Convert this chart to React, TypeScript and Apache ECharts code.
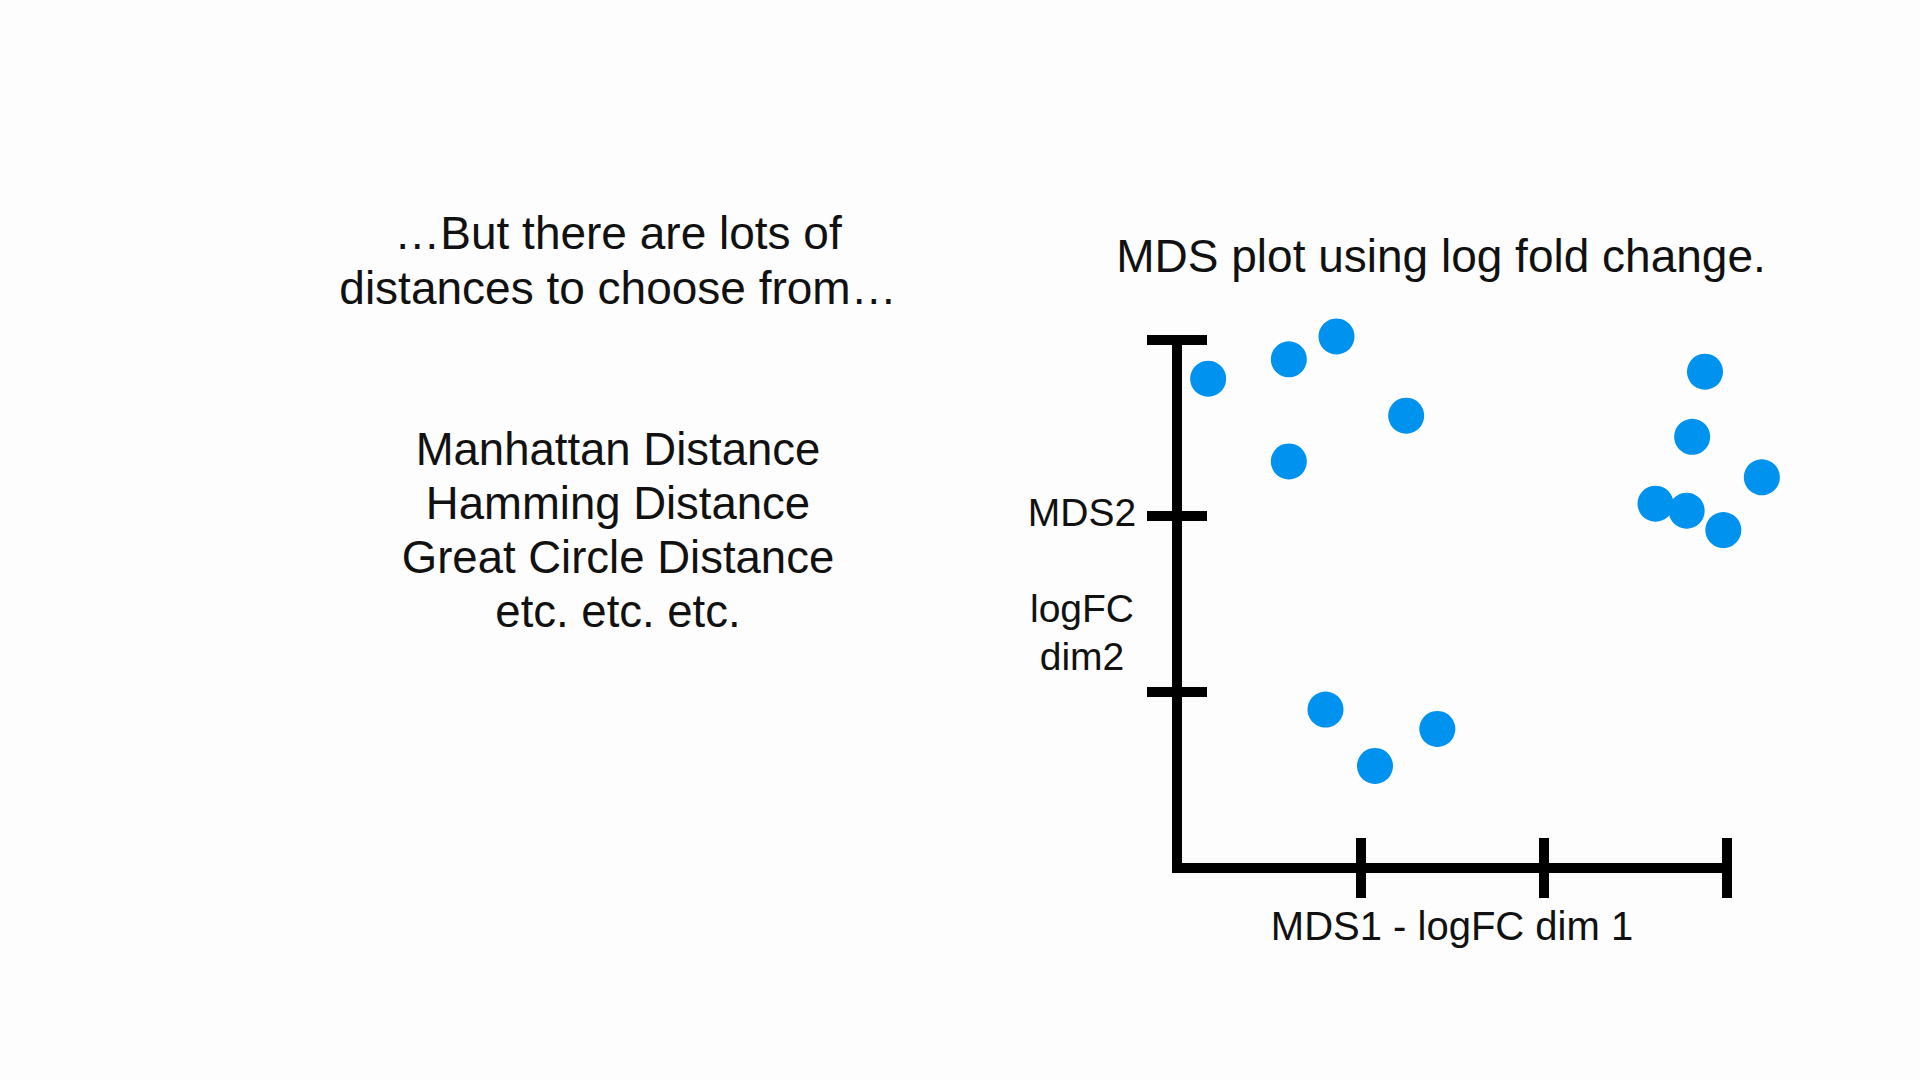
import React, { useEffect, useRef } from "react";
import * as echarts from "echarts";

const xValues = [0.17, 0.61, 0.87, 1.25, 0.61, 2.88, 2.81, 3.19, 2.61, 2.78, 2.98, 0.81, 1.08, 1.42];
const yValues = [2.78, 2.89, 3.02, 2.57, 2.31, 2.82, 2.45, 2.22, 2.07, 2.03, 1.92, 0.9, 0.58, 0.79];
const tickValues = [1, 2, 3];
const yLabelValues = [2.02, 1.34];
const yLabelTexts = ["MDS2", "logFC\ndim2"];
const titleText = "MDS plot using log fold change.";
const xAxisName = "MDS1 - logFC dim 1";
const introLines = ["\u2026But there are lots of", "distances to choose from\u2026"];
const distanceLines = ["Manhattan Distance", "Hamming Distance", "Great Circle Distance", "etc. etc. etc."];

const FONT = "'Liberation Sans', Arial, Helvetica, sans-serif";
const INK = "#111111";

export default function App() {
  const ref = useRef<HTMLDivElement>(null);
  useEffect(() => {
    document.body.style.margin = "0";
    if (!ref.current) return;
    const chart = echarts.init(ref.current, undefined, { renderer: "svg" });
    const data = xValues.map((x, i) => [x, yValues[i]]);
    const axisLineStyle = { color: "#000", width: 10, cap: "square" as const };
    const tickStyle = { color: "#000", width: 10 };
    const baseX = {
      type: "value" as const,
      min: 0,
      max: 3,
      interval: 1,
      position: "bottom" as const,
      splitLine: { show: false },
    };
    const baseY = {
      type: "value" as const,
      min: 0,
      max: 3,
      interval: 1,
      position: "left" as const,
      splitLine: { show: false },
    };
    chart.setOption({
      animation: false,
      backgroundColor: "#fdfdfd",
      grid: { left: 1177, right: 193, top: 340, bottom: 212, containLabel: false },
      xAxis: [
        {
          ...baseX,
          axisLine: { show: true, onZero: false, lineStyle: axisLineStyle },
          axisTick: { show: true, inside: true, length: 30, customValues: tickValues, lineStyle: tickStyle },
          axisLabel: { show: false },
          name: xAxisName,
          nameLocation: "middle",
          nameGap: 38,
          nameTextStyle: { fontFamily: FONT, fontSize: 40, color: INK, verticalAlign: "top" },
        },
        {
          ...baseX,
          axisLine: { show: false },
          axisTick: { show: true, inside: false, length: 30, customValues: tickValues, lineStyle: tickStyle },
          axisLabel: { show: false },
        },
      ],
      yAxis: [
        {
          ...baseY,
          axisLine: { show: true, onZero: false, lineStyle: axisLineStyle },
          axisTick: { show: true, inside: true, length: 30, customValues: tickValues, lineStyle: tickStyle },
          axisLabel: {
            show: true,
            customValues: yLabelValues,
            margin: 95,
            align: "center",
            fontFamily: FONT,
            fontSize: 39,
            lineHeight: 48,
            color: INK,
            formatter: (v: number) => {
              const i = yLabelValues.indexOf(v);
              return i >= 0 ? yLabelTexts[i] : "";
            },
          },
        },
        {
          ...baseY,
          axisLine: { show: false },
          axisTick: { show: true, inside: false, length: 30, customValues: tickValues, lineStyle: tickStyle },
          axisLabel: { show: false },
        },
      ],
      series: [
        {
          type: "scatter",
          xAxisIndex: 0,
          yAxisIndex: 0,
          data,
          symbol: "circle",
          symbolSize: 36,
          clip: false,
          itemStyle: { color: "#0092EF", opacity: 1 },
          silent: true,
        },
      ],
      graphic: [
        {
          type: "text",
          x: 1441,
          y: 256,
          style: {
            text: titleText,
            fontFamily: FONT,
            fontSize: 46,
            fill: INK,
            textAlign: "center",
            textVerticalAlign: "middle",
          },
        },
        ...introLines.map((t, i) => ({
          type: "text",
          x: 618,
          y: 233 + i * 55,
          style: {
            text: t,
            fontFamily: FONT,
            fontSize: 46,
            fill: INK,
            textAlign: "center",
            textVerticalAlign: "middle",
          },
        })),
        ...distanceLines.map((t, i) => ({
          type: "text",
          x: 618,
          y: 449 + i * 54,
          style: {
            text: t,
            fontFamily: FONT,
            fontSize: 45.5,
            fill: INK,
            textAlign: "center",
            textVerticalAlign: "middle",
          },
        })),
      ],
    });
    return () => chart.dispose();
  }, []);
  return <div ref={ref} style={{ width: 1920, height: 1080 }} />;
}
